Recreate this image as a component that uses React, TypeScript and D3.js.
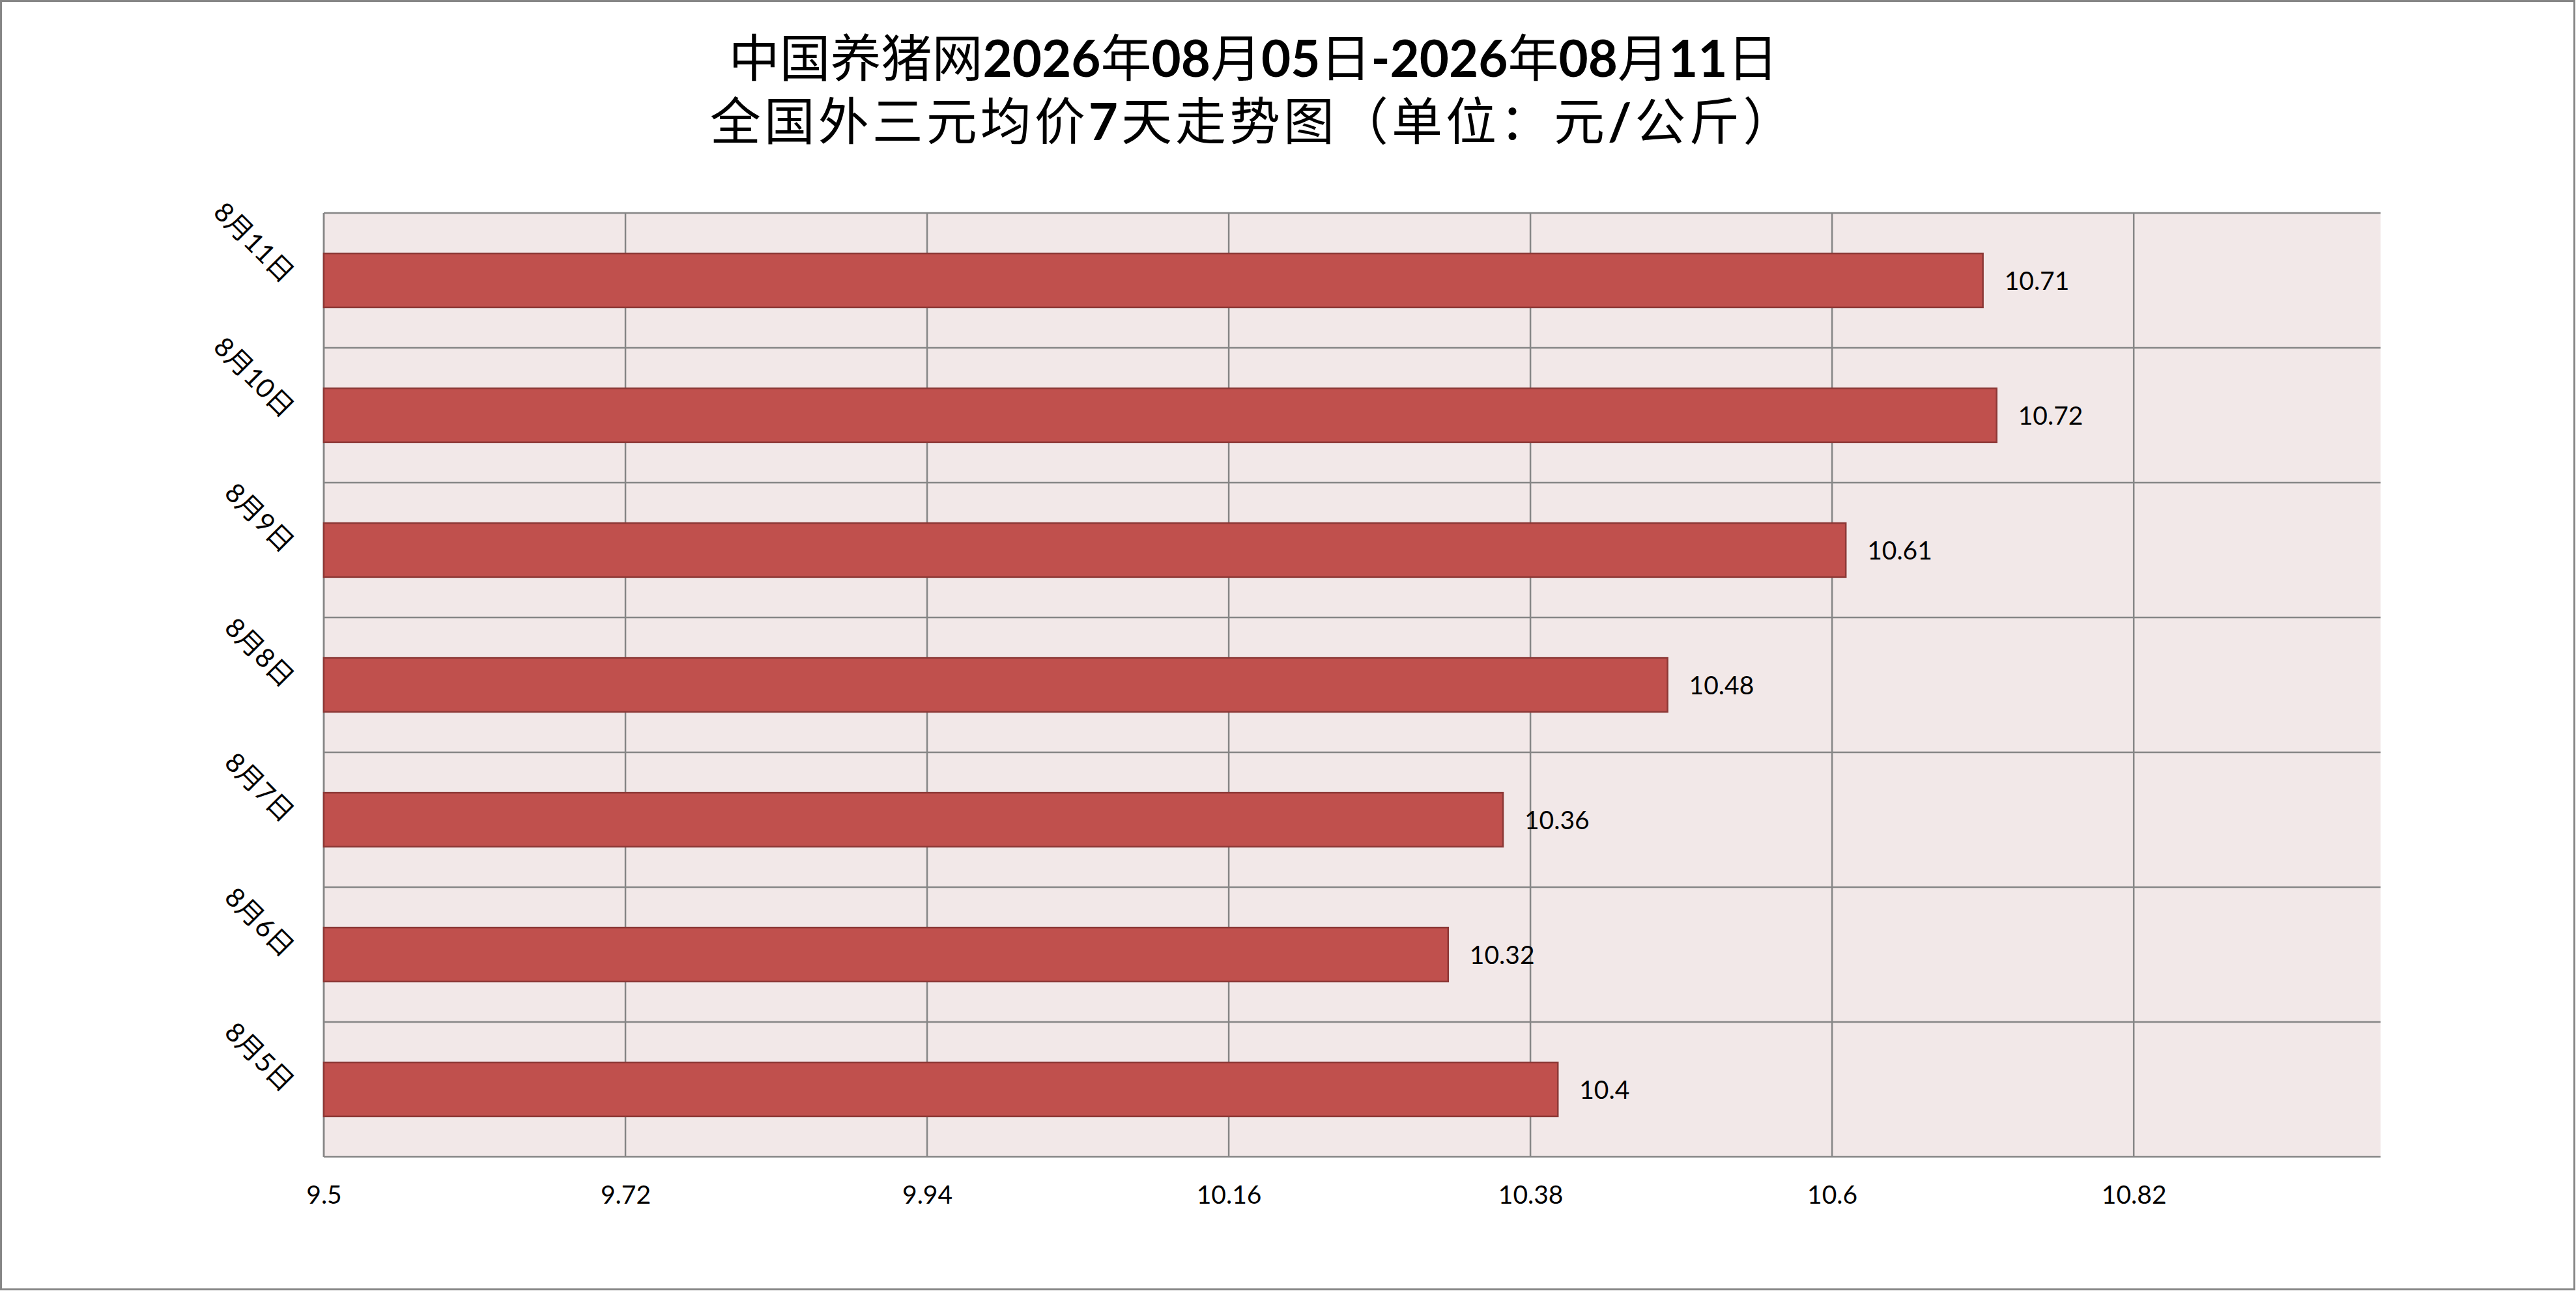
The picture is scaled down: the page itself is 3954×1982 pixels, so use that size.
import { useRef, useEffect } from 'react'
import * as d3 from 'd3'

// 日期（自上而下）与均价
const days = ['8月11日', '8月10日', '8月9日', '8月8日', '8月7日', '8月6日', '8月5日']
const prices = [10.71, 10.72, 10.61, 10.48, 10.36, 10.32, 10.4]
const xTicks = [9.5, 9.72, 9.94, 10.16, 10.38, 10.6, 10.82]
const xDomain = [9.5, 11]
const titleLines = [
  '中国养猪网2026年08月05日-2026年08月11日',
  '全国外三元均价7天走势图（单位：元/公斤）',
]

const W = 3954
const H = 1982
const plot = { left: 497, top: 327, right: 3654, bottom: 1776 }
const font = "Lato, 'Noto Sans CJK SC', sans-serif"
const grid = '#868686'

const App = () => {
  const ref = useRef<SVGSVGElement>(null)

  useEffect(() => {
    const svg = d3.select(ref.current as SVGSVGElement)
    svg.selectAll('*').remove()

    svg.append('rect').attr('width', W).attr('height', H).attr('fill', '#fff')
    svg
      .append('rect')
      .attr('x', 1.5)
      .attr('y', 1.5)
      .attr('width', W - 4)
      .attr('height', H - 4)
      .attr('fill', 'none')
      .attr('stroke', grid)
      .attr('stroke-width', 3)

    // title: latin runs bold, CJK runs regular
    titleLines.forEach((line, i) => {
      const t = svg
        .append('text')
        .attr('font-family', font)
        .attr('font-size', 78)
        .attr('text-anchor', 'middle')
        .attr('letter-spacing', i === 1 ? 5 : 0)
        .attr('x', 1924)
        .attr('y', 118 + i * 97)
        .attr('fill', '#000')
      const runs = line.match(/[\x00-\x7F]+|[^\x00-\x7F]+/g) || []
      runs.forEach((r) => {
        t.append('tspan')
          .text(r)
          .attr('font-weight', /^[\x00-\x7F]/.test(r) ? 'bold' : 'normal')
      })
    })

    const x = d3.scaleLinear().domain(xDomain).range([plot.left, plot.right])
    const y = d3.scaleBand().domain(days).range([plot.top, plot.bottom]).padding(0)
    const bw = y.bandwidth()

    svg
      .append('rect')
      .attr('x', plot.left)
      .attr('y', plot.top)
      .attr('width', plot.right - plot.left)
      .attr('height', plot.bottom - plot.top)
      .attr('fill', '#F2E8E8')

    const g = svg.append('g').attr('stroke', grid).attr('stroke-width', 2.5)
    g.selectAll('line.h')
      .data(days)
      .enter()
      .append('line')
      .attr('x1', plot.left)
      .attr('x2', plot.right)
      .attr('y1', (d) => y(d) as number)
      .attr('y2', (d) => y(d) as number)
    g.selectAll('line.v')
      .data(xTicks)
      .enter()
      .append('line')
      .attr('x1', (d) => x(d))
      .attr('x2', (d) => x(d))
      .attr('y1', plot.top)
      .attr('y2', plot.bottom)

    svg
      .append('g')
      .selectAll('rect')
      .data(prices)
      .enter()
      .append('rect')
      .attr('x', plot.left)
      .attr('y', (_, i) => (y(days[i]) as number) + bw * 0.3)
      .attr('width', (d) => x(d) - plot.left)
      .attr('height', bw * 0.4)
      .attr('fill', '#C0504D')
      .attr('stroke', '#8C3836')
      .attr('stroke-width', 2.5)

    // axis lines
    g.append('line')
      .attr('x1', plot.left)
      .attr('x2', plot.left)
      .attr('y1', plot.top)
      .attr('y2', plot.bottom)
    g.append('line')
      .attr('x1', plot.left)
      .attr('x2', plot.right)
      .attr('y1', plot.bottom)
      .attr('y2', plot.bottom)

    // value labels
    svg
      .append('g')
      .attr('font-family', font)
      .attr('font-size', 39)
      .selectAll('text')
      .data(prices)
      .enter()
      .append('text')
      .attr('x', (d) => x(d) + 33)
      .attr('y', (_, i) => (y(days[i]) as number) + bw / 2)
      .attr('dy', '0.36em')
      .text((d) => String(d))

    // category labels
    svg
      .append('g')
      .attr('font-family', font)
      .attr('font-size', 41)
      .selectAll('text')
      .data(days)
      .enter()
      .append('text')
      .attr('text-anchor', 'end')
      .attr(
        'transform',
        (d) => `translate(434, ${(y(d) as number) + bw / 2 + 6}) rotate(45)`,
      )
      .text((d) => d)

    // value axis labels
    const axis = svg
      .append('g')
      .attr('transform', `translate(0, ${plot.bottom})`)
      .call(
        d3
          .axisBottom(x)
          .tickValues(xTicks)
          .tickSize(0)
          .tickPadding(44)
          .tickFormat((d) => String(d)),
      )
    axis.select('.domain').remove()
    axis
      .selectAll('text')
      .attr('font-family', font)
      .attr('font-size', 39)
      .attr('fill', '#000')
  }, [])

  return (
    <svg
      ref={ref}
      width={W}
      height={H}
      style={{ position: 'absolute', left: 0, top: 0, display: 'block' }}
    />
  )
}

export default App
